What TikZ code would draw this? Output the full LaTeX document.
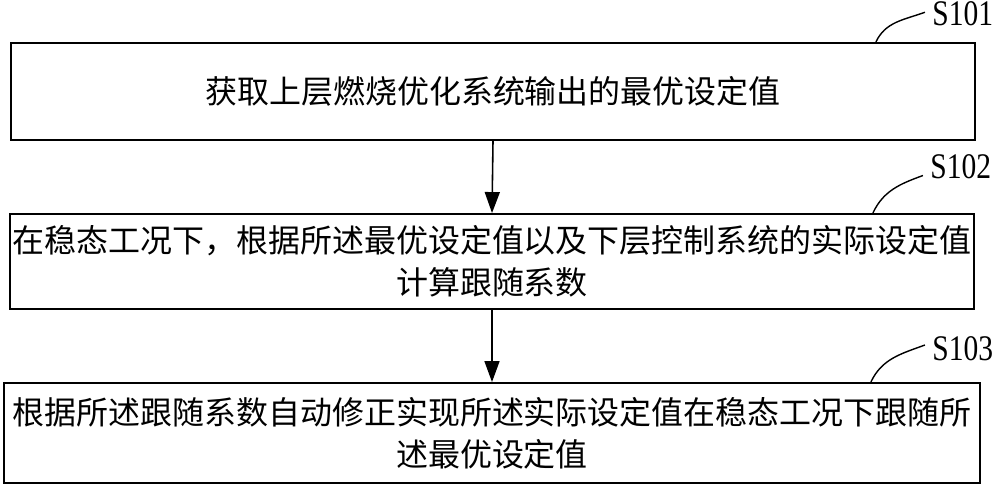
\documentclass[tikz,border=0pt]{standalone}
\usepackage{fontspec}
\setmainfont{Liberation Serif}
\newfontfamily\cjk{Noto Sans CJK SC}
\newfontfamily\lblfont[FakeStretch=0.82]{Liberation Serif}
\usetikzlibrary{arrows.meta}

\tikzset{
  stepbox/.style={draw, line width=1.1pt, inner sep=0pt, align=center,
    font=\cjk\fontsize{18.2}{24}\selectfont},
  steplbl/.style={inner sep=0pt, anchor=west, font=\lblfont\fontsize{20.5}{22}\selectfont},
  leader/.style={line width=0.8pt},
  flow/.style={line width=0.9pt, -{Triangle[length=0.42cm,width=0.3cm]}}
}

\begin{document}
\begin{tikzpicture}[x=0.02cm,y=-0.02cm]
\useasboundingbox (0,0) rectangle (1000,490);
% steps
\node[stepbox, minimum width=19.28cm, minimum height=1.94cm] (b1) at (493,91.5)
  {获取上层燃烧优化系统输出的最优设定值};
\node[stepbox, minimum width=19.28cm, minimum height=1.9cm] (b2) at (492,261.5)
  {在稳态工况下，根据所述最优设定值以及下层控制系统的实际设定值\\计算跟随系数};
\node[stepbox, minimum width=19.52cm, minimum height=2cm] (b3) at (492,433)
  {根据所述跟随系数自动修正实现所述实际设定值在稳态工况下跟随所\\述最优设定值};
% step numbers
\node[steplbl] (l1) at (932,14) {S101};
\node[steplbl] (l2) at (930,167) {S102};
\node[steplbl] (l3) at (932,349) {S103};
\draw[leader] ([xshift=-2cm]b1.north east) to[out=65,in=200] ([xshift=-4pt,yshift=1pt]l1.west);
\draw[leader] ([xshift=-2.04cm]b2.north east) to[out=65,in=200] ([xshift=-4pt,yshift=-0.17cm]l2.west);
\draw[leader] ([xshift=-2.2cm]b3.north east) to[out=65,in=200] ([xshift=-4pt,yshift=0.08cm]l3.west);
% arrows
\draw[flow] (b1.south) -- (b2.north);
\draw[flow] (b2.south) -- (b3.north);
\end{tikzpicture}
\end{document}
